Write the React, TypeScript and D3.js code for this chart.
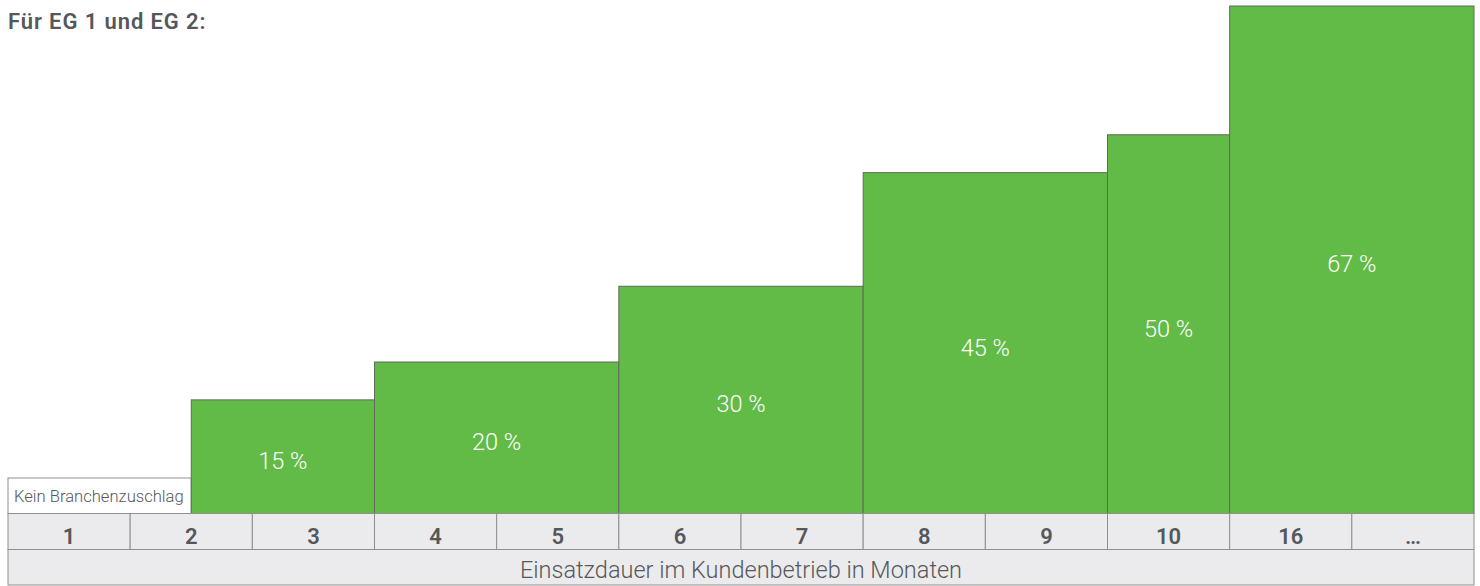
import React from "react";
import * as d3 from "d3";

const width = 1480;
const height = 586;

// Monate in der unteren Zeile
const months = ["1", "2", "3", "4", "5", "6", "7", "8", "9", "10", "16", "…"];

// Zuschlagsstufen: Beginn/Ende in Spalten, Zuschlag in %
const stepStart = [1.5, 3, 5, 7, 9, 10];
const stepEnd = [3, 5, 7, 9, 10, 12];
const stepValue = [15, 20, 30, 45, 50, 67];

const title = "Für EG 1 und EG 2:";
const noSurcharge = "Kein Branchenzuschlag";
const axisTitle = "Einsatzdauer im Kundenbetrieb in Monaten";

const green = "#62bb47";
const textGray = "#55585b";
const cellFill = "#ebebed";
const cellStroke = "#8f8f8f";
const barStroke = "#5e6b58";
const font = "Roboto, 'DejaVu Sans', sans-serif";

const left = 8;
const right = 1474;
const baseY = 513.5;
const rowH = 36;

const x = d3.scaleLinear().domain([0, months.length]).range([left, right]);
const y = d3.scaleLinear().domain([0, 67]).range([baseY, 6]);

export default function App() {
  const bars = stepValue.map((v, i) => ({
    x0: x(stepStart[i]),
    x1: x(stepEnd[i]),
    y: y(v),
    label: `${v} %`,
  }));

  return (
    <div style={{ position: "absolute", left: 0, top: 0 }}>
      <svg width={width} height={height} style={{ display: "block" }}>
        <rect width={width} height={height} fill="#fff" />
        <text
          x={left}
          y={29}
          fontFamily={font}
          fontSize={22}
          fontWeight={600}
          letterSpacing={0.9}
          fill={textGray}
        >
          {title}
        </text>

        {/* kein Zuschlag */}
        <rect
          x={x(0)}
          y={baseY - 35.5}
          width={x(1.5) - x(0)}
          height={35.5}
          fill="#fff"
          stroke={cellStroke}
          strokeWidth={1}
        />
        <text x={x(0) + 6} y={502} fontFamily={font} fontSize={16.6} fontWeight={300} fill={textGray}>
          {noSurcharge}
        </text>

        {bars.map((b, i) => (
          <g key={i}>
            <rect
              x={b.x0}
              y={b.y}
              width={b.x1 - b.x0}
              height={baseY - b.y}
              fill={green}
              stroke={barStroke}
              strokeWidth={1}
            />
            <text
              x={(b.x0 + b.x1) / 2}
              y={(b.y + baseY) / 2 + 12.5}
              textAnchor="middle"
              fontFamily={font}
              fontSize={23.5}
              fontWeight={300}
              fill="#fff"
            >
              {b.label}
            </text>
          </g>
        ))}

        {/* Monatszeile */}
        {months.map((m, i) => (
          <g key={m}>
            <rect
              x={x(i)}
              y={baseY}
              width={x(i + 1) - x(i)}
              height={rowH}
              fill={cellFill}
              stroke={cellStroke}
              strokeWidth={1}
            />
            <text
              x={(x(i) + x(i + 1)) / 2}
              y={543.5}
              textAnchor="middle"
              fontFamily={font}
              fontSize={22}
              fontWeight={600}
              fill={textGray}
            >
              {m}
            </text>
          </g>
        ))}

        <rect
          x={x(0)}
          y={baseY + rowH}
          width={x(months.length) - x(0)}
          height={rowH - 0.5}
          fill={cellFill}
          stroke={cellStroke}
          strokeWidth={1}
        />
        <text
          x={(x(0) + x(months.length)) / 2}
          y={577.5}
          textAnchor="middle"
          fontFamily={font}
          fontSize={23.5}
          fontWeight={300}
          fill={textGray}
        >
          {axisTitle}
        </text>
      </svg>
    </div>
  );
}
